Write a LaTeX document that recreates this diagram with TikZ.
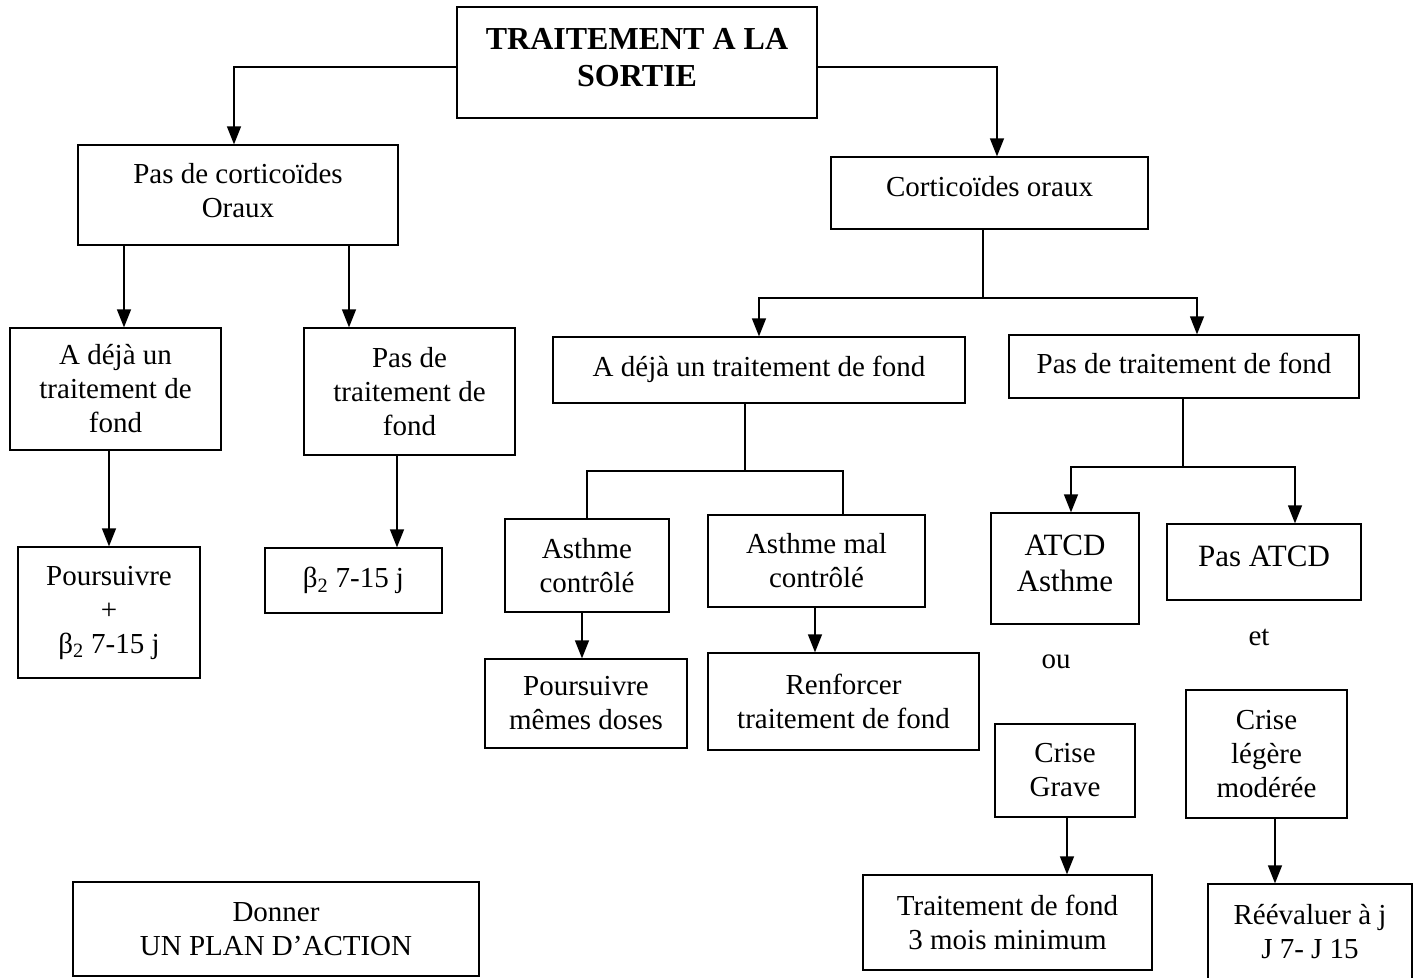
\documentclass[tikz,border=0pt]{standalone}
\usepackage{fontspec}
\setmainfont{Liberation Serif}
\usetikzlibrary{arrows.meta}
\newcommand{\rtxt}[2]{\raisebox{#1}[\height][\depth]{\begin{tabular}{@{}c@{}}#2\end{tabular}}}
\begin{document}
\begin{tikzpicture}[x=1pt,y=-1pt,
  box/.style={draw, line width=1.3pt, inner sep=0pt, align=center, font=\fontsize{29}{34}\selectfont},
  bigbox/.style={box, font=\fontsize{31}{36}\selectfont},
  titlebox/.style={box, font=\bfseries\fontsize{32}{37}\selectfont},
  plain/.style={inner sep=0pt, font=\fontsize{29}{34}\selectfont},
  conn/.style={line width=1.3pt},
  arr/.style={conn, -{Triangle[width=14pt,length=18pt]}}]
\useasboundingbox (0,0) rectangle (1420,977);
\clip (0,0) rectangle (1420,977);
\fill[white] (0,0) rectangle (1420,977);

% boxes
\node[titlebox, minimum width=360pt, minimum height=111pt] (title) at (637,62.5) {\rtxt{2pt}{TRAITEMENT A LA\\SORTIE}};
\node[box, minimum width=320pt, minimum height=100pt] (pasc) at (238,195) {\rtxt{1pt}{Pas de corticoïdes\\Oraux}};
\node[box, minimum width=317pt, minimum height=72pt] (cort) at (989.5,193) {\rtxt{3pt}{Corticoïdes oraux}};
\node[box, minimum width=211pt, minimum height=122pt] (lb1) at (115.5,389) {A déjà un\\traitement de\\fond};
\node[box, minimum width=211pt, minimum height=127pt] (lb2) at (409.5,391.5) {Pas de\\traitement de\\fond};
\node[box, minimum width=182pt, minimum height=131pt] (pours1) at (109,612.5) {Poursuivre\\+\\β\textsubscript{2} 7-15 j};
\node[box, minimum width=177pt, minimum height=65pt] (beta) at (353.5,580.5) {β\textsubscript{2} 7-15 j};
\node[box, minimum width=412pt, minimum height=66pt] (adeja) at (759,370) {\rtxt{0pt}{A déjà un traitement de fond}};
\node[box, minimum width=350pt, minimum height=63pt] (pasfond) at (1184,366.5) {\rtxt{0pt}{Pas de traitement de fond}};
\node[box, minimum width=164pt, minimum height=93pt] (asthc) at (587,565.5) {Asthme\\contrôlé};
\node[box, minimum width=217pt, minimum height=92pt] (asthm) at (816.5,561) {Asthme mal\\contrôlé};
\node[box, minimum width=202pt, minimum height=89pt] (pours2) at (586,703.5) {Poursuivre\\mêmes doses};
\node[box, minimum width=271pt, minimum height=97pt] (renf) at (843.5,701.5) {Renforcer\\traitement de fond};
\node[bigbox, minimum width=148pt, minimum height=111pt] (atcd) at (1065,568.5) {\rtxt{2pt}{ATCD\\Asthme}};
\node[bigbox, minimum width=194pt, minimum height=76pt] (pasatcd) at (1264,562) {\rtxt{3pt}{Pas ATCD}};
\node[box, minimum width=140pt, minimum height=93pt] (crisegr) at (1065,770.5) {Crise\\Grave};
\node[box, minimum width=161pt, minimum height=128pt] (criselg) at (1266.5,754) {Crise\\légère\\modérée};
\node[box, minimum width=289pt, minimum height=95pt] (ttf) at (1007.5,922.5) {Traitement de fond\\3 mois minimum};
\node[box, minimum width=204pt, minimum height=96pt] (reeval) at (1310,932) {Réévaluer à j\\J 7- J 15};
\node[box, minimum width=406pt, minimum height=94pt] (donner) at (276,929) {Donner\\UN PLAN D’ACTION};
\node[plain] (ou) at (1056,662) {ou};
\node[plain] (et) at (1259,637) {et};

% helper coordinates
\coordinate (c0) at (234,0);
\coordinate (c5) at (997,0);
\coordinate (c7) at (1197,0);
\coordinate (c1) at (124,0);
\coordinate (c2) at (349,0);
\coordinate (c3) at (397,0);
\coordinate (c8) at (843,0);
\coordinate (c9) at (1071,0);
\coordinate (c10) at (1295,0);
\coordinate (c11) at (1275,0);
\coordinate (c12) at (815,0);
\coordinate (c13) at (582,0);
\coordinate (c14) at (1067,0);
\coordinate (j1) at (983,298);
\coordinate (j2) at (745,471);
\coordinate (j3) at (1183,467);

% connectors
\draw[arr] ([yshift=-4.5pt]title.west) -| (pasc.north -| c0);
\draw[arr] ([yshift=-4.5pt]title.east) -| (cort.north -| c5);

\draw[conn] (cort.south -| j1) -- (j1);
\draw[arr] (j1) -| (adeja.north);
\draw[arr] (j1) -| (pasfond.north -| c7);

\draw[arr] (pasc.south -| c1) -- (lb1.north -| c1);
\draw[arr] (pasc.south -| c2) -- (lb2.north -| c2);
\draw[arr] (lb1.south -| pours1.north) -- (pours1.north);
\draw[arr] (lb2.south -| c3) -- (beta.north -| c3);

\draw[conn] (adeja.south -| j2) -- (j2);
\draw[conn] (asthc.north) |- (j2);
\draw[conn] (asthm.north -| c8) |- (j2);
\draw[arr] (asthc.south -| c13) -- (pours2.north -| c13);
\draw[arr] (asthm.south -| c12) -- (renf.north -| c12);

\draw[conn] (pasfond.south -| j3) -- (j3);
\draw[arr] (j3) -| (atcd.north -| c9);
\draw[arr] (j3) -| (pasatcd.north -| c10);

\draw[arr] (crisegr.south -| c14) -- (ttf.north -| c14);
\draw[arr] (criselg.south -| c11) -- (reeval.north -| c11);
\end{tikzpicture}
\end{document}
